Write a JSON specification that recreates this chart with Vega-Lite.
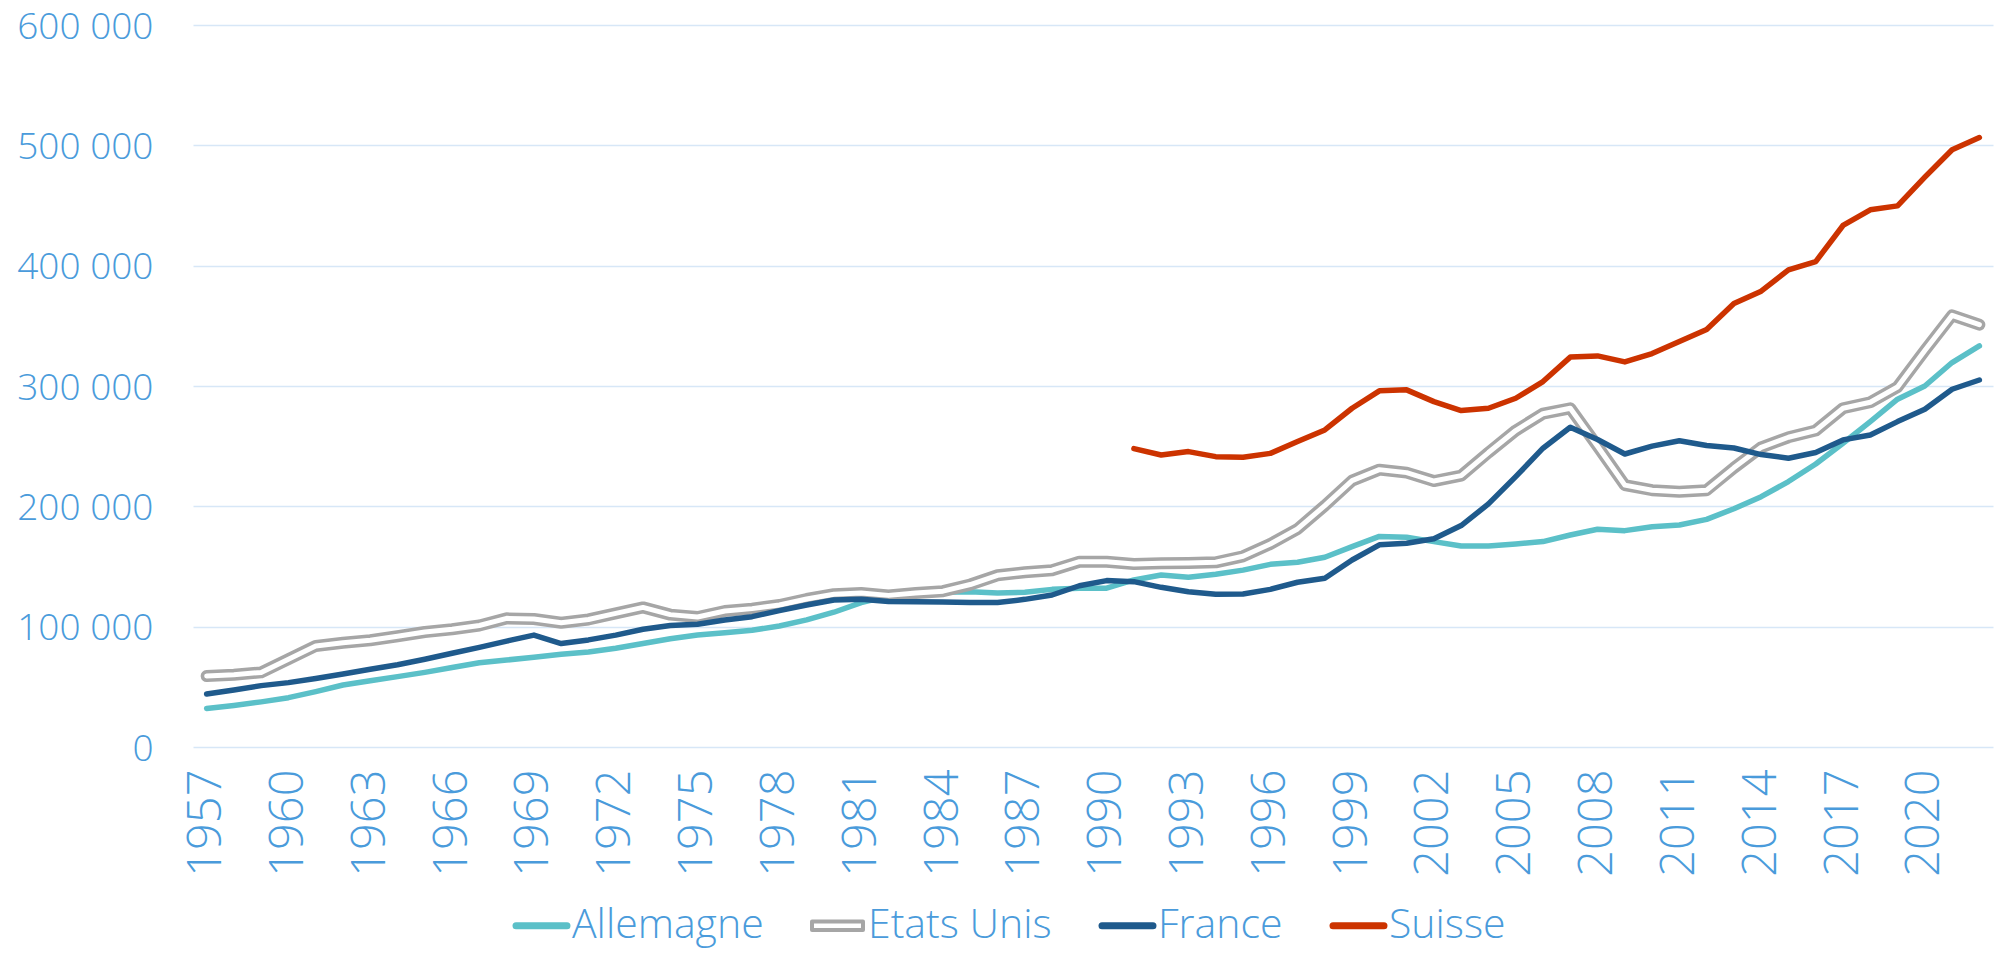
{
  "$schema": "https://vega.github.io/schema/vega-lite/v6.json",
  "width": 1800,
  "height": 722,
  "autosize": {"type": "none"},
  "padding": {"left": 193, "top": 25, "right": 2, "bottom": 207},
  "background": "white",
  "config": {
    "locale": {"number": {"decimal": ",", "thousands": " ", "grouping": [3], "currency": ["", " €"]}},
    "view": {"stroke": null},
    "font": "Open Sans"
  },
  "data": {"values": [
    {"year": 1957, "Allemagne": 32000, "Etats Unis": 59000, "France": 44000},
    {"year": 1958, "Allemagne": 34500, "Etats Unis": 60000, "France": 47400},
    {"year": 1959, "Allemagne": 37500, "Etats Unis": 62000, "France": 51000},
    {"year": 1960, "Allemagne": 41000, "Etats Unis": 73000, "France": 53500},
    {"year": 1961, "Allemagne": 46000, "Etats Unis": 84000, "France": 57000},
    {"year": 1962, "Allemagne": 51500, "Etats Unis": 86700, "France": 60700},
    {"year": 1963, "Allemagne": 55000, "Etats Unis": 88700, "France": 64600},
    {"year": 1964, "Allemagne": 58500, "Etats Unis": 92000, "France": 68400},
    {"year": 1965, "Allemagne": 62000, "Etats Unis": 95600, "France": 72900},
    {"year": 1966, "Allemagne": 66000, "Etats Unis": 97800, "France": 77900},
    {"year": 1967, "Allemagne": 70000, "Etats Unis": 101000, "France": 82800},
    {"year": 1968, "Allemagne": 72300, "Etats Unis": 106900, "France": 88000},
    {"year": 1969, "Allemagne": 74500, "Etats Unis": 106400, "France": 93000},
    {"year": 1970, "Allemagne": 77000, "Etats Unis": 103300, "France": 86000},
    {"year": 1971, "Allemagne": 79000, "Etats Unis": 106000, "France": 89000},
    {"year": 1972, "Allemagne": 82000, "Etats Unis": 111000, "France": 93000},
    {"year": 1973, "Allemagne": 86000, "Etats Unis": 116000, "France": 97800},
    {"year": 1974, "Allemagne": 90000, "Etats Unis": 110000, "France": 100900},
    {"year": 1975, "Allemagne": 93000, "Etats Unis": 108000, "France": 102000},
    {"year": 1976, "Allemagne": 95000, "Etats Unis": 113000, "France": 105600},
    {"year": 1977, "Allemagne": 97000, "Etats Unis": 115000, "France": 108300},
    {"year": 1978, "Allemagne": 100600, "Etats Unis": 118000, "France": 113300},
    {"year": 1979, "Allemagne": 105600, "Etats Unis": 123000, "France": 118000},
    {"year": 1980, "Allemagne": 112000, "Etats Unis": 127000, "France": 122200},
    {"year": 1981, "Allemagne": 120000, "Etats Unis": 128000, "France": 122700},
    {"year": 1982, "Allemagne": 125500, "Etats Unis": 126000, "France": 121000},
    {"year": 1983, "Allemagne": 127700, "Etats Unis": 128000, "France": 120800},
    {"year": 1984, "Allemagne": 128800, "Etats Unis": 129500, "France": 120500},
    {"year": 1985, "Allemagne": 129000, "Etats Unis": 135000, "France": 120000},
    {"year": 1986, "Allemagne": 128000, "Etats Unis": 142700, "France": 120000},
    {"year": 1987, "Allemagne": 128600, "Etats Unis": 145200, "France": 122700},
    {"year": 1988, "Allemagne": 131000, "Etats Unis": 146900, "France": 126300},
    {"year": 1989, "Allemagne": 131900, "Etats Unis": 154000, "France": 134000},
    {"year": 1990, "Allemagne": 132000, "Etats Unis": 154000, "France": 138300},
    {"year": 1991, "Allemagne": 138800, "Etats Unis": 152000, "France": 137400, "Suisse": 248000},
    {"year": 1992, "Allemagne": 143000, "Etats Unis": 152700, "France": 132700, "Suisse": 242700},
    {"year": 1993, "Allemagne": 141000, "Etats Unis": 153000, "France": 129000, "Suisse": 245500},
    {"year": 1994, "Allemagne": 143500, "Etats Unis": 153500, "France": 127000, "Suisse": 241300},
    {"year": 1995, "Allemagne": 147000, "Etats Unis": 158500, "France": 127200, "Suisse": 240800},
    {"year": 1996, "Allemagne": 151800, "Etats Unis": 168700, "France": 131000, "Suisse": 244000},
    {"year": 1997, "Allemagne": 153500, "Etats Unis": 181200, "France": 136900, "Suisse": 253800},
    {"year": 1998, "Allemagne": 157700, "Etats Unis": 200600, "France": 140200, "Suisse": 263500},
    {"year": 1999, "Allemagne": 166500, "Etats Unis": 221400, "France": 155400, "Suisse": 281500},
    {"year": 2000, "Allemagne": 175000, "Etats Unis": 230500, "France": 168000, "Suisse": 296000},
    {"year": 2001, "Allemagne": 174300, "Etats Unis": 228000, "France": 169300, "Suisse": 296800},
    {"year": 2002, "Allemagne": 170700, "Etats Unis": 221000, "France": 173000, "Suisse": 287000},
    {"year": 2003, "Allemagne": 167000, "Etats Unis": 225500, "France": 184000, "Suisse": 279600},
    {"year": 2004, "Allemagne": 167000, "Etats Unis": 244700, "France": 202000, "Suisse": 281500},
    {"year": 2005, "Allemagne": 168700, "Etats Unis": 263000, "France": 224700, "Suisse": 289800},
    {"year": 2006, "Allemagne": 170700, "Etats Unis": 277000, "France": 248300, "Suisse": 303700},
    {"year": 2007, "Allemagne": 176200, "Etats Unis": 281500, "France": 265700, "Suisse": 324000},
    {"year": 2008, "Allemagne": 181000, "Etats Unis": 250000, "France": 255500, "Suisse": 325000},
    {"year": 2009, "Allemagne": 179800, "Etats Unis": 217600, "France": 243500, "Suisse": 320000},
    {"year": 2010, "Allemagne": 183000, "Etats Unis": 213400, "France": 250000, "Suisse": 327000},
    {"year": 2011, "Allemagne": 184500, "Etats Unis": 212200, "France": 254500, "Suisse": 337000},
    {"year": 2012, "Allemagne": 189200, "Etats Unis": 213400, "France": 250500, "Suisse": 347000},
    {"year": 2013, "Allemagne": 198000, "Etats Unis": 232000, "France": 248500, "Suisse": 368500},
    {"year": 2014, "Allemagne": 208000, "Etats Unis": 249000, "France": 243000, "Suisse": 378800},
    {"year": 2015, "Allemagne": 220600, "Etats Unis": 257400, "France": 240000, "Suisse": 396500},
    {"year": 2016, "Allemagne": 235200, "Etats Unis": 263000, "France": 244700, "Suisse": 403400},
    {"year": 2017, "Allemagne": 252400, "Etats Unis": 281500, "France": 255200, "Suisse": 433400},
    {"year": 2018, "Allemagne": 270400, "Etats Unis": 286500, "France": 259300, "Suisse": 446400},
    {"year": 2019, "Allemagne": 289000, "Etats Unis": 299200, "France": 270400, "Suisse": 449700},
    {"year": 2020, "Allemagne": 300000, "Etats Unis": 329500, "France": 280700, "Suisse": 473500},
    {"year": 2021, "Allemagne": 319500, "Etats Unis": 358700, "France": 297300, "Suisse": 496300},
    {"year": 2022, "Allemagne": 333300, "Etats Unis": 351000, "France": 305000, "Suisse": 506500}
  ]},
  "transform": [
    {"fold": ["Allemagne", "Etats Unis", "France", "Suisse"], "as": ["pays", "valeur"]},
    {"filter": "isValid(datum.valeur)"}
  ],
  "encoding": {
    "x": {
      "field": "year", "type": "ordinal",
      "axis": {
        "title": null,
        "values": [1957, 1960, 1963, 1966, 1969, 1972, 1975, 1978, 1981, 1984, 1987, 1990, 1993, 1996, 1999, 2002, 2005, 2008, 2011, 2014, 2017, 2020],
        "labelAngle": 270,
        "labelPadding": 22,
        "ticks": false,
        "tickSize": 0,
        "domain": false,
        "grid": false,
        "labelFont": "Open Sans",
        "labelFontWeight": 300,
        "labelFontSize": 47,
        "labelColor": "#4A9BDB",
        "labelOverlap": false
      }
    },
    "y": {
      "field": "valeur", "type": "quantitative",
      "scale": {"domain": [0, 600000], "nice": false},
      "axis": {
        "title": null,
        "values": [0, 100000, 200000, 300000, 400000, 500000, 600000],
        "format": ",d",
        "grid": true,
        "gridColor": "#D7E7F7",
        "gridWidth": 1.6,
        "domain": false,
        "ticks": false,
        "tickSize": 0,
        "labelPadding": 40,
        "labelOffset": 2,
        "labelFont": "Open Sans",
        "labelFontWeight": 300,
        "labelFontSize": 37,
        "labelColor": "#4A9BDB"
      }
    },
    "color": {
      "field": "pays", "type": "nominal",
      "scale": {"domain": ["Allemagne", "Etats Unis", "France", "Suisse"], "range": ["#5BC0C8", "#A6A6A6", "#1F5A8C", "#CC3300"]},
      "legend": {
        "title": null,
        "orient": "none",
        "legendX": 328,
        "legendY": 880,
        "direction": "horizontal",
        "symbolType": "stroke",
        "symbolSize": 2600,
        "symbolStrokeWidth": 7,
        "labelFont": "Open Sans",
        "labelFontWeight": 300,
        "labelFontSize": 41,
        "labelColor": "#4A9BDB",
        "labelOffset": 10,
        "labelLimit": 400,
        "columnPadding": 46,
        "encode": {
          "symbols": {
            "update": {
              "shape": {"signal": "datum.value === 'Etats Unis' ? 'M-1,-0.17L1,-0.17L1,0.17L-1,0.17Z' : 'stroke'"},
              "fill": {"signal": "datum.value === 'Etats Unis' ? '#ffffff' : 'transparent'"},
              "strokeWidth": {"signal": "datum.value === 'Etats Unis' ? 4 : 7"},
              "strokeCap": {"value": "round"},
              "strokeJoin": {"value": "round"}
            }
          }
        }
      }
    }
  },
  "layer": [
    {
      "transform": [{"filter": "datum.pays === 'Allemagne'"}],
      "mark": {"type": "line", "strokeWidth": 5.5, "strokeCap": "round", "strokeJoin": "round"}
    },
    {
      "transform": [{"filter": "datum.pays === 'Etats Unis'"}],
      "mark": {"type": "line", "strokeWidth": 12, "strokeCap": "round", "strokeJoin": "round"}
    },
    {
      "transform": [{"filter": "datum.pays === 'Etats Unis'"}],
      "mark": {"type": "line", "strokeWidth": 5, "strokeCap": "round", "strokeJoin": "round"},
      "encoding": {"color": {"value": "#ffffff"}}
    },
    {
      "transform": [{"filter": "datum.pays === 'France' || datum.pays === 'Suisse'"}],
      "mark": {"type": "line", "strokeWidth": 5.5, "strokeCap": "round", "strokeJoin": "round"}
    }
  ]
}
